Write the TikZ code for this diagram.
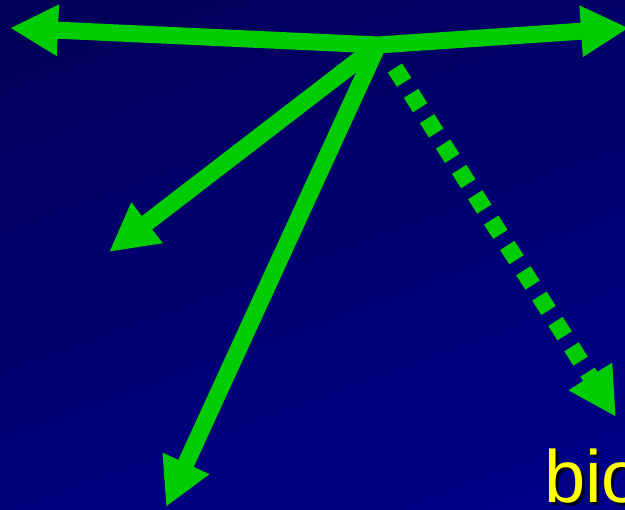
\documentclass[tikz,border=0pt]{standalone}
\usepackage{fontspec}
\setmainfont{Liberation Sans}
\usetikzlibrary{arrows.meta}
\definecolor{bgtop}{RGB}{0,0,88}
\definecolor{bgbot}{RGB}{0,0,138}
\definecolor{arrgreen}{RGB}{0,204,0}
\definecolor{txtyellow}{RGB}{255,255,0}
\definecolor{shadowc}{RGB}{0,0,30}
\tikzset{
  bigarrow/.style={draw=arrgreen, line width=17pt, -{Triangle[length=48pt,width=48pt]}},
  bigboth/.style={draw=arrgreen, line width=17pt, {Triangle[length=48pt,width=48pt]}-{Triangle[length=48pt,width=48pt]}, line join=miter},
  dotarrow/.style={bigarrow, dash pattern=on 17pt off 13pt},
  label/.style={font=\fontsize{74pt}{80pt}\selectfont, inner sep=0pt, anchor=base west}
}
\begin{document}
\begin{tikzpicture}[x=1pt,y=-1pt]
\useasboundingbox (0,0) rectangle (625,510);
\shade[top color=bgtop, bottom color=bgbot, shading angle=20] (-60,-60) rectangle (685,570);
\coordinate (c) at (378,45);
\coordinate (l) at (10,28);
\coordinate (r) at (629,28);
\coordinate (ld) at (109,252);
\coordinate (d) at (166,507);
\coordinate (ds) at (395,68);
\coordinate (dr) at (616,417);
\draw[bigboth] (l) -- (c) -- (r);
\draw[bigarrow] (c) -- (ld);
\draw[bigarrow] (c) -- (d);
\draw[dotarrow] (ds) -- (dr);
\node[label, text=shadowc] (bioshadow) at (547,506) {bio};
\node[label, text=txtyellow] (bio) at (544,503) {bio};
\end{tikzpicture}
\end{document}
